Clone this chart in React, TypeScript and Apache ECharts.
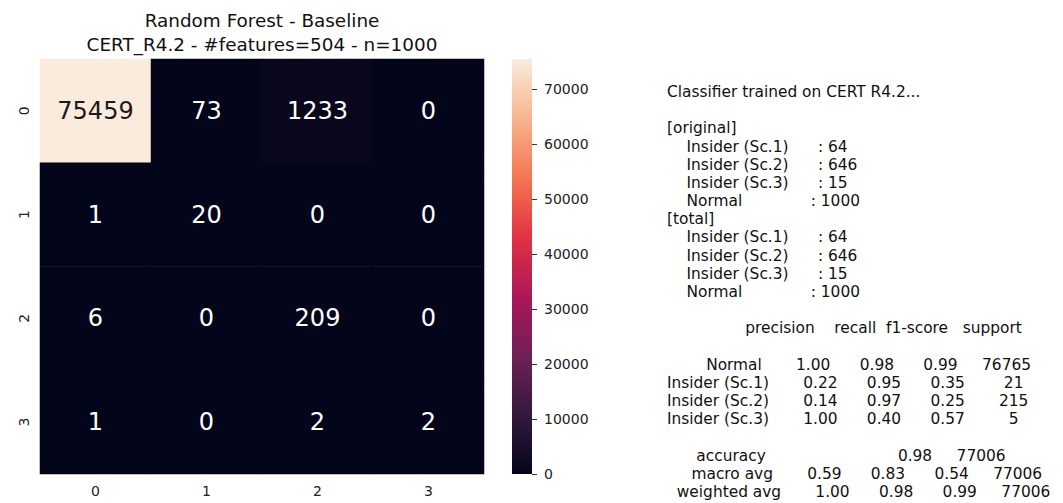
import React, { useEffect, useRef } from "react";
import * as echarts from "echarts";

// ---- data ----
const classes = ["0", "1", "2", "3"];
const confusion = [
  [75459, 73, 1233, 0],
  [1, 20, 0, 0],
  [6, 0, 209, 0],
  [1, 0, 2, 2],
];
const colorbarTicks = [0, 10000, 20000, 30000, 40000, 50000, 60000, 70000];
const titleLines = ["Random Forest - Baseline", "CERT_R4.2 - #features=504 - n=1000"];
const rocket = ["#03051A", "#35193E", "#701F57", "#AD1759", "#E13342", "#F37651", "#F6B48F", "#FAEBDD"];

const trainedOn = "CERT R4.2";
const countNames = ["Insider (Sc.1)", "Insider (Sc.2)", "Insider (Sc.3)", "Normal"];
const originalCounts = [64, 646, 15, 1000];
const totalCounts = [64, 646, 15, 1000];

const reportHeaders = ["precision", "recall", "f1-score", "support"];
const reportNames = ["Normal", "Insider (Sc.1)", "Insider (Sc.2)", "Insider (Sc.3)"];
const precision = [1.0, 0.22, 0.14, 1.0];
const recall = [0.98, 0.95, 0.97, 0.4];
const f1score = [0.99, 0.35, 0.25, 0.57];
const support = [76765, 21, 215, 5];
const accuracy = 0.98;
const totalSupport = 77006;
const macroAvg = [0.59, 0.83, 0.54];
const weightedAvg = [1.0, 0.98, 0.99];

const FONT = "DejaVu Sans";

function buildReportLines(): string[] {
  const W = 14;
  const lines: string[] = [];
  lines.push(`Classifier trained on ${trainedOn}...`);
  lines.push("");
  const block = (label: string, counts: number[]) => {
    lines.push(`[${label}]`);
    countNames.forEach((n, i) => lines.push("    " + n.padEnd(W) + "      : " + counts[i]));
  };
  block("original", originalCounts);
  block("total", totalCounts);
  lines.push("");
  lines.push(" ".repeat(W) + " " + reportHeaders.map((h) => " " + h.padStart(9)).join(""));
  lines.push("");
  reportNames.forEach((n, i) => {
    lines.push(
      n.padStart(W) +
        " " +
        [precision[i], recall[i], f1score[i]].map((v) => " " + v.toFixed(2).padStart(9)).join("") +
        " " +
        String(support[i]).padStart(9)
    );
  });
  lines.push("");
  lines.push(
    "accuracy".padStart(W) + " " + " " + "".padStart(9) + " " + "".padStart(9) + " " +
      accuracy.toFixed(2).padStart(9) + " " + String(totalSupport).padStart(9)
  );
  const avgLine = (name: string, vals: number[]) =>
    name.padStart(W) + " " + vals.map((v) => " " + v.toFixed(2).padStart(9)).join("") + " " + String(totalSupport).padStart(9);
  lines.push(avgLine("macro avg", macroAvg));
  lines.push(avgLine("weighted avg", weightedAvg));
  return lines;
}

export default function App() {
  const ref = useRef<HTMLDivElement>(null);
  useEffect(() => {
    if (!ref.current) return;
    const chart = echarts.init(ref.current, null, { renderer: "svg" });
    const colorMax = Math.max(...confusion.flat());

    // report text tokens positioned by measured DejaVu Sans advance widths
    const textSize = 15.4;
    const canvas = document.createElement("canvas");
    const ctx = canvas.getContext("2d")!;
    ctx.font = `${textSize}px "${FONT}"`;
    const x0 = 667;
    const y0 = 92;
    const lh = 18.18;
    const reportGraphics: any[] = [];
    buildReportLines().forEach((line, li) => {
      const re = /\S+(?: \S+)*/g;
      let m: RegExpExecArray | null;
      while ((m = re.exec(line))) {
        const x = x0 + ctx.measureText(line.slice(0, m.index)).width;
        reportGraphics.push({
          type: "text",
          x,
          y: y0 + li * lh,
          silent: true,
          style: {
            text: m[0],
            fontSize: textSize,
            fontFamily: FONT,
            fill: "#111",
            align: "left",
            verticalAlign: "middle",
          },
        });
      }
    });

    const titleGraphics = titleLines.map((t, i) => ({
      type: "text",
      x: 262,
      y: 20 + i * 24,
      silent: true,
      style: {
        text: t,
        fontSize: 18.4,
        fontFamily: FONT,
        fill: "#111",
        align: "center",
        verticalAlign: "middle",
      },
    }));

    const heatData = confusion.flatMap((row, r) =>
      row.map((v, c) => ({
        value: [c, r, v],
        label: { color: v > colorMax / 2 ? "#1a1a1a" : "#ffffff" },
      }))
    );

    const stops = rocket.map((c, i) => ({ offset: i / (rocket.length - 1), color: c }));

    chart.setOption({
      animation: false,
      backgroundColor: "#ffffff",
      textStyle: { fontFamily: FONT },
      grid: [
        { left: 40, top: 59, width: 444, height: 415 },
        { left: 512, top: 59, width: 20, height: 415 },
      ],
      xAxis: [
        {
          type: "category",
          gridIndex: 0,
          data: classes,
          axisLine: { show: false },
          axisTick: { alignWithLabel: true, length: 5, lineStyle: { color: "#333" } },
          axisLabel: { fontSize: 14, color: "#222", fontFamily: FONT, margin: 10 },
          splitLine: { show: false },
        },
        { type: "category", gridIndex: 1, data: ["scale"], show: false },
      ],
      yAxis: [
        {
          type: "category",
          gridIndex: 0,
          data: classes,
          inverse: true,
          axisLine: { show: false },
          axisTick: { alignWithLabel: true, length: 5, lineStyle: { color: "#333" } },
          axisLabel: { fontSize: 14, color: "#222", fontFamily: FONT, rotate: 90, margin: 9 },
          splitLine: { show: false },
        },
        {
          type: "value",
          gridIndex: 1,
          position: "right",
          min: 0,
          max: colorMax,
          axisLine: { show: false },
          axisTick: { show: true, length: 5, customValues: colorbarTicks, lineStyle: { color: "#333" } },
          axisLabel: {
            customValues: colorbarTicks,
            fontSize: 14,
            color: "#222",
            fontFamily: FONT,
            margin: 12,
            formatter: (v: number) => String(Math.round(v)),
          },
          splitLine: { show: false },
        },
      ],
      visualMap: {
        type: "continuous",
        show: false,
        min: 0,
        max: colorMax,
        seriesIndex: 0,
        inRange: { color: rocket },
      },
      series: [
        {
          type: "heatmap",
          xAxisIndex: 0,
          yAxisIndex: 0,
          data: heatData,
          label: { show: true, fontSize: 24, fontFamily: FONT },
          itemStyle: { borderWidth: 0 },
          emphasis: { disabled: true },
          silent: true,
        },
        {
          type: "bar",
          xAxisIndex: 1,
          yAxisIndex: 1,
          data: [colorMax],
          barWidth: "100%",
          silent: true,
          itemStyle: { color: new echarts.graphic.LinearGradient(0, 1, 0, 0, stops) },
        },
      ],
      graphic: [...titleGraphics, ...reportGraphics],
    });
    return () => chart.dispose();
  }, []);
  return <div ref={ref} style={{ position: "fixed", left: 0, top: 0, width: 1063, height: 503 }} />;
}
